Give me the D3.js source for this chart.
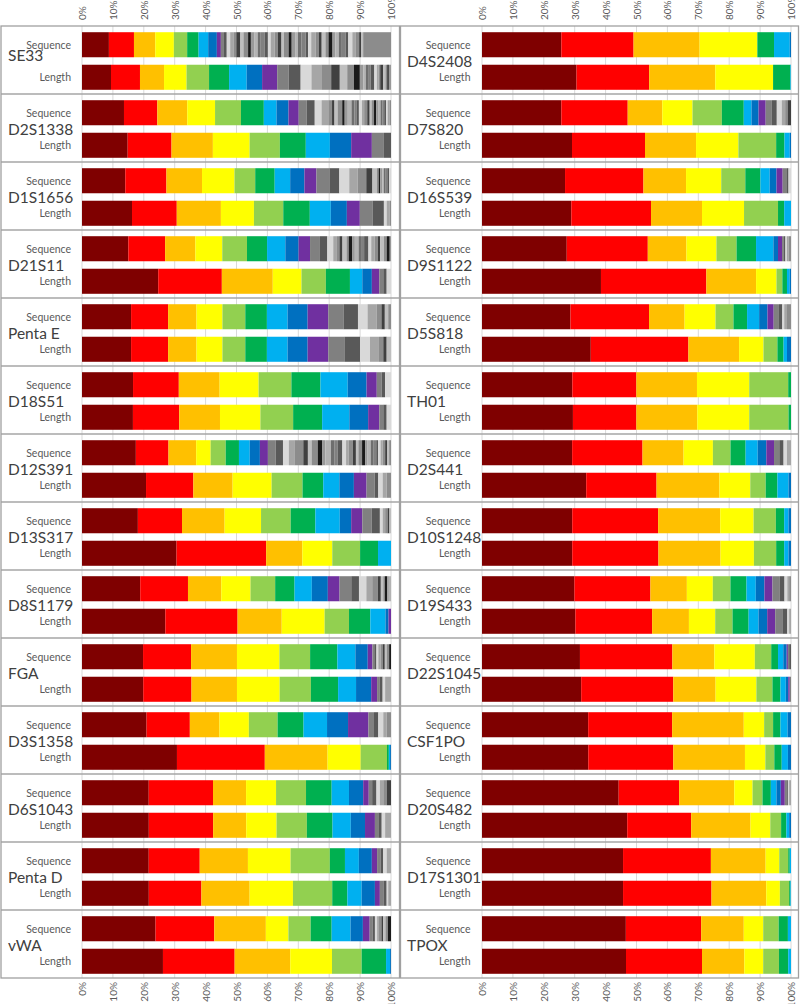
<!DOCTYPE html>
<html><head><meta charset="utf-8">
<script src="https://cdn.jsdelivr.net/npm/d3@7"></script>
<style>body{margin:0;background:#fff} svg{display:block}</style>
</head><body>
<svg id="chart" width="800" height="1004"></svg>
<script>
// ---------------- DATA ----------------
const leftLoci = ["SE33","D2S1338","D1S1656","D21S11","Penta E","D18S51","D12S391","D13S317","D8S1179","FGA","D3S1358","D6S1043","Penta D","vWA"];
const rightLoci = ["D4S2408","D7S820","D16S539","D9S1122","D5S818","TH01","D2S441","D10S1248","D19S433","D22S1045","CSF1PO","D20S482","D17S1301","TPOX"];
const barTypes = ["Sequence","Length"];
const tickValues = [0,0.1,0.2,0.3,0.4,0.5,0.6,0.7,0.8,0.9,1.0];

// allele shares (%), most frequent first; one array per bar
const leftSequence = [
  [8.7,8.1,6.9,6.0,4.3,3.7,3.1,2.8,1.3,1.0,0.9,1.1,1.2,0.8,1.3,1.0,1.5,0.9,1.2,1.0,0.8,1.4,1.1,0.9,1.3,1.0,1.2,0.8,1.5,1.0,1.1,0.9,1.2,1.3,0.8,1.0,1.4,1.1,0.9,1.2,1.0,1.3,0.9,1.1,1.0,1.2,0.9,1.3,1.0,1.2,0.6,0.7,9.0],
  [13.6,10.8,9.7,9.0,8.4,7.4,4.1,3.9,3.3,2.6,2.6,2.2,2.2,1.2,0.8,1.0,1.5,0.8,1.0,1.2,1.0,0.6,0.8,1.0,0.7,1.0,0.8,0.6,0.8,0.7,0.8,0.6,0.7,0.5,0.6,0.5,0.6,0.5],
  [14.0,13.3,11.5,10.5,6.7,6.3,5.0,4.6,3.9,4.2,3.2,3.2,2.7,2.8,2.0,1.4,0.6,0.5,0.7,0.5,0.6,0.5,0.6,0.6],
  [15.0,11.9,9.8,8.7,8.0,6.5,5.9,4.3,3.7,3.2,2.4,1.9,1.2,0.8,1.0,1.3,0.7,1.1,0.9,1.2,0.8,1.0,1.4,0.9,1.1,1.0,0.8,1.2,0.9,1.0,0.4],
  [15.9,12.0,9.2,8.4,7.4,7.0,6.7,6.5,6.7,4.9,4.7,3.1,2.9,1.6,1.1,1.1,0.9],
  [16.5,14.8,13.2,12.6,10.6,9.4,8.8,6.1,3.3,1.6,1.1,1.9],
  [17.5,10.6,9.0,4.7,4.9,4.3,3.5,3.3,2.6,2.5,2.4,1.9,1.8,2.9,1.5,1.2,2.0,1.5,1.0,1.8,1.2,1.0,1.5,1.2,0.8,1.4,1.0,0.8,1.2,1.0,0.8,1.0,0.8,1.0,0.6,0.8,0.7,0.8,0.6,0.7,0.6],
  [18.1,14.3,13.8,11.8,9.6,8.0,7.9,3.7,3.6,3.0,2.7,0.9,0.8,0.8,0.6,0.5],
  [18.9,15.5,10.8,9.5,8.0,6.3,5.6,5.2,3.8,3.8,2.5,2.4,1.9,1.8,1.0,0.8,0.5,0.8,0.5,0.7],
  [19.7,15.5,14.8,13.7,9.9,8.8,5.8,4.0,1.5,0.6,0.7,0.6,0.8,0.6,0.7,0.6,0.8,0.6],
  [20.9,14.0,9.6,9.5,9.3,8.4,7.6,6.8,6.6,1.8,1.4,1.6,1.1,1.4],
  [21.6,20.8,10.7,9.7,9.7,8.3,5.6,4.6,1.8,1.1,1.4,1.1,1.1,1.1,1.4],
  [21.6,16.5,15.6,13.8,12.7,4.9,4.5,4.2,1.7,1.2,0.8,1.1,1.4],
  [23.8,19.0,16.7,7.3,7.2,6.8,6.1,4.0,2.2,0.9,0.8,0.7,0.6,0.8,0.6,0.7,0.8,1.0]
];
const leftLength = [
  [9.4,9.4,7.8,7.3,7.3,6.5,5.7,5.0,4.9,3.7,3.9,3.5,3.2,3.2,2.8,2.4,2.2,1.9,1.1,0.8,1.0,0.6,1.2,0.8,0.6,0.5,1.0,0.7,0.6,0.5,0.7],
  [14.8,14.2,13.4,11.9,9.8,8.4,7.8,6.9,6.7,3.9,2.3],
  [16.2,14.5,14.3,10.7,9.5,8.6,6.8,5.2,4.2,4.1,3.7,0.9,0.9,0.5],
  [24.7,20.6,16.5,9.3,7.9,7.8,4.0,3.1,2.4,1.3,1.1,1.4],
  [15.9,12.0,9.2,8.4,7.4,7.0,6.7,6.5,6.7,5.2,5.1,3.2,2.9,1.4,1.1,1.4],
  [16.5,15.0,13.2,13.1,10.6,9.4,8.8,6.1,3.6,1.3,1.1,1.4],
  [20.7,15.3,12.7,12.6,10.0,6.7,5.2,4.7,4.1,2.6,1.2,1.4,1.3,1.4],
  [30.6,29.0,11.7,9.7,9.0,5.8,4.2],
  [27.0,23.4,14.3,13.9,7.9,6.9,4.9,1.0,0.8],
  [19.8,15.6,14.7,13.8,10.1,8.8,5.8,4.9,1.9,0.9,0.9,0.8,1.9],
  [30.7,28.4,20.3,10.7,8.5,0.6,0.4,0.3],
  [21.6,20.8,10.7,9.8,9.8,8.3,5.9,4.6,3.2,1.1,1.1,1.1,1.9],
  [21.6,17.0,15.6,14.0,12.7,4.9,4.6,4.3,1.6,1.3,0.9,0.5,0.9],
  [26.2,23.2,18.0,13.5,9.6,7.9,1.3,0.3]
];
const rightSequence = [
  [25.7,23.4,21.4,18.7,0,5.4,5.1,0.4],
  [25.7,21.5,11.2,9.8,9.5,7.1,2.5,2.3,2.3,2.0,1.6,1.6,1.1,0.8,1.1],
  [26.9,25.4,13.8,11.4,7.8,4.9,3.0,2.2,2.0,1.4,0.5,0.8],
  [27.4,26.2,12.5,9.7,6.5,6.3,5.6,1.5,1.3,0.6,0.5,0.5,0.5,0.8],
  [28.6,25.4,11.5,10.0,5.8,4.4,3.9,2.7,2.0,1.7,1.1,0.6,0.9,1.3],
  [29.2,20.7,19.6,16.9,12.6,0.9],
  [29.2,22.8,13.3,9.5,5.7,4.9,3.9,2.8,2.5,1.7,1.4,1.1,1.3],
  [29.2,27.8,20.1,10.8,7.2,2.7,1.4,0.8],
  [29.9,24.6,11.8,8.4,5.7,5.2,3.0,2.8,2.6,2.4,1.5,0.9,0.6,0.6],
  [31.7,29.9,13.6,13.1,5.3,2.2,1.7,1.1,0.4,0.4,0.6],
  [34.4,27.2,23.2,6.6,2.9,2.4,2.3,1.1],
  [44.1,19.5,17.8,5.9,3.2,2.7,1.8,1.4,1.3,0.5,0.5,0.4,0.6],
  [45.6,28.4,17.7,4.4,2.9,0.5,0.4],
  [46.6,24.4,13.8,6.3,5.0,3.0,1.0]
];
const rightLength = [
  [30.6,23.5,21.4,18.7,0,5.6,0.2],
  [29.1,23.6,16.5,13.7,12.2,2.7,1.7,0.4],
  [28.9,25.8,16.5,13.6,11.0,2.0,2.2],
  [38.5,34.1,16.1,6.6,1.9,1.5,0.9,0.4],
  [35.2,31.6,16.4,7.9,4.5,2.0,1.1,1.3],
  [29.4,20.5,19.7,16.8,12.7,0.8],
  [33.8,22.8,20.4,10.0,5.0,3.8,3.6,0.8],
  [29.2,27.9,20.1,10.8,7.2,2.6,1.4,0.8],
  [30.2,24.8,11.9,8.5,5.6,5.2,3.2,2.8,2.6,2.3,1.6,0.6,0.6],
  [32.1,29.8,13.7,13.2,5.2,2.6,1.7,0.8,0.5,0.4],
  [34.4,27.5,23.2,6.6,2.9,2.4,2.0,1.0],
  [47.0,20.7,19.2,6.4,3.5,1.7,0.9,0.6],
  [45.6,28.6,17.7,4.4,3.0,0.4,0.2],
  [46.6,24.6,13.7,6.1,5.1,3.0,0.9]
];

// ---------------- STYLE ----------------
const alleleColors = ["#7f0000","#ff0000","#ffc000","#ffff00","#92d050","#00b050","#00b0f0","#0070c0","#7030a0"];
const grayShades = ["#808080","#595959","#d9d9d9","#a6a6a6","#8c8c8c","#404040","#bfbfbf","#8c8c8c","#1a1a1a","#999999","#b3b3b3","#6e6e6e"];
const segColor = i => i < alleleColors.length ? alleleColors[i] : grayShades[(i - alleleColors.length) % grayShades.length];

const FONT = "Lato, 'Open Sans', sans-serif";
const svg = d3.select("#chart");
const plotTop = 26, plotBottom = 978;

const panels = [
  {loci: leftLoci, seq: leftSequence, len: leftLength, x0: 1, x1: 399.5, bar0: 82, bar1: 391, labelX: 71, nameX: 8},
  {loci: rightLoci, seq: rightSequence, len: rightLength, x0: 400.5, x1: 798.5, bar0: 482, bar1: 791, labelX: 470.5, nameX: 407}
];

panels.forEach(p => {
  const g = svg.append("g");
  const x = d3.scaleLinear().domain([0, 1]).range([p.bar0, p.bar1]);
  const y = d3.scaleBand().domain(p.loci).range([plotTop, plotBottom]);
  const inner = d3.scaleBand().domain(barTypes).range([1, y.bandwidth() + 1]).paddingInner(0.23).paddingOuter(0.16);

  // gridlines
  g.append("g").selectAll("line").data(tickValues).join("line")
    .attr("x1", d => x(d)).attr("x2", d => x(d))
    .attr("y1", plotTop).attr("y2", plotBottom)
    .attr("stroke", "#d9d9d9").attr("stroke-width", 1);

  // bars
  p.loci.forEach((locus, i) => {
    barTypes.forEach(type => {
      const vals = type === "Sequence" ? p.seq[i] : p.len[i];
      const total = d3.sum(vals);
      let cum = 0;
      const segs = vals.map((v, k) => { const s = {k, start: cum / total, end: (cum + v) / total}; cum += v; return s; });
      g.append("g").selectAll("rect").data(segs.filter(s => s.end > s.start)).join("rect")
        .attr("x", s => x(s.start))
        .attr("width", s => x(s.end) - x(s.start))
        .attr("y", y(locus) + inner(type))
        .attr("height", inner.bandwidth())
        .attr("fill", s => segColor(s.k));
      g.append("text")
        .attr("x", p.labelX)
        .attr("y", y(locus) + inner(type) + inner.bandwidth() / 2)
        .attr("dominant-baseline", "central")
        .attr("text-anchor", "end")
        .attr("font-family", FONT).attr("font-size", 10.5)
        .attr("fill", "#595959")
        .text(type);
    });
    const gapMid = y(locus) + inner("Sequence") + inner.bandwidth() + (inner("Length") - inner("Sequence") - inner.bandwidth()) / 2;
    g.append("text")
      .attr("x", p.nameX)
      .attr("y", gapMid + (locus === "SE33" ? 0 : 6))
      .attr("font-family", FONT).attr("font-size", 15.5)
      .attr("fill", "#404040")
      .text(locus);
  });

  // cell separators
  g.append("g").selectAll("line").data(p.loci.slice(1)).join("line")
    .attr("x1", p.x0).attr("x2", p.x1)
    .attr("y1", d => y(d)).attr("y2", d => y(d))
    .attr("stroke", "#a6a6a6").attr("stroke-width", 1.3);

  // border
  g.append("rect")
    .attr("x", p.x0).attr("y", plotTop)
    .attr("width", p.x1 - p.x0).attr("height", plotBottom - plotTop)
    .attr("fill", "none").attr("stroke", "#a0a0a0").attr("stroke-width", 1.3);

  // axes
  const fmt = d3.format(".0%");
  const topAxis = g.append("g").attr("transform", `translate(0,20)`)
    .call(d3.axisTop(x).tickValues(tickValues).tickFormat(fmt).tickSize(0).tickPadding(0));
  const botAxis = g.append("g").attr("transform", `translate(0,982)`)
    .call(d3.axisBottom(x).tickValues(tickValues).tickFormat(fmt).tickSize(0).tickPadding(0));
  [topAxis, botAxis].forEach((ax, j) => {
    ax.select(".domain").remove();
    ax.selectAll("text")
      .attr("x", 0).attr("y", 0).attr("dy", "0.35em")
      .attr("transform", "rotate(-90)")
      .attr("text-anchor", j === 0 ? "start" : "end")
      .attr("font-family", FONT).attr("font-size", 10)
      .attr("fill", "#595959");
  });
});
</script>
</body></html>
